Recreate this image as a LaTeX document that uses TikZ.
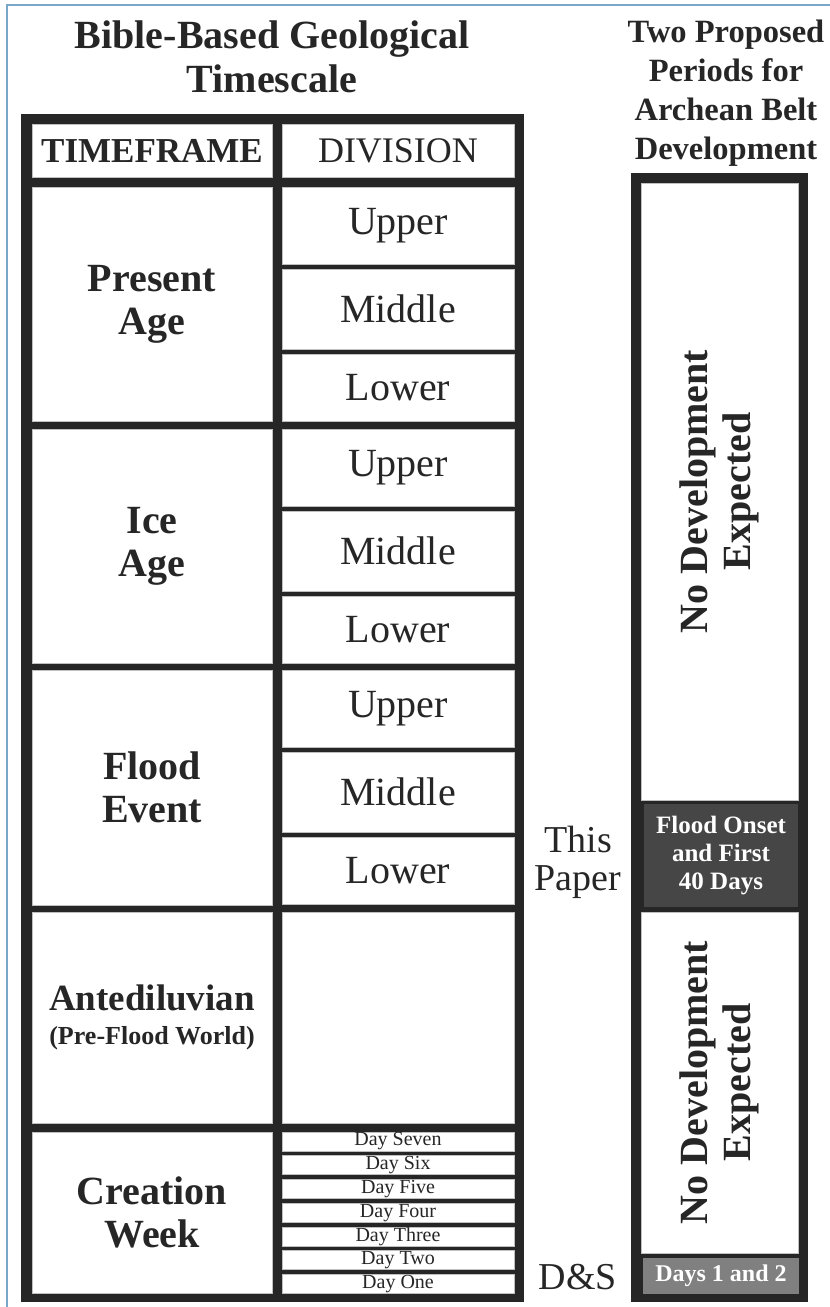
\documentclass[tikz,border=0pt]{standalone}
\usepackage{fontspec}
\setmainfont{Liberation Serif}
\definecolor{framegray}{HTML}{262626}
\definecolor{onsetgray}{HTML}{464646}
\definecolor{daysgray}{HTML}{808080}
\definecolor{edgeblue}{HTML}{7AA6C8}
\begin{document}
\begin{tikzpicture}[x=1pt, y=-1pt,
  cell/.style={rectangle, fill=white, draw=black!25, line width=0.6pt, inner sep=0pt, text=framegray, align=center},
  darkcell/.style={rectangle, fill=#1, inner sep=0pt, text=white, align=center, font=\fontsize{25}{28}\selectfont\bfseries},
  eratext/.style={font=\fontsize{40}{43}\selectfont\bfseries},
  divtext/.style={font=\fontsize{40}{45}\selectfont},
  daytext/.style={font=\fontsize{20}{20}\selectfont},
  heading/.style 2 args={align=center, text=framegray, font=\fontsize{#1}{#2}\selectfont\bfseries}]
\useasboundingbox (0,0) rectangle (830,1307);
\draw[edgeblue, line width=1.5pt] (7,1307) -- (7,5) -- (830,5);
\node[heading={40}{44}] (title) at (272,57) {Bible-Based Geological\\Timescale};
\node[heading={32.5}{39}] (title2) at (726,93) {Two Proposed\\Periods for\\Archean Belt\\Development};
\fill[framegray] (21,114) rectangle (524,1302);
\fill[framegray] (631,173) rectangle (808,1302);
\node[cell, minimum width=240, minimum height=53, font=\fontsize{35}{35}\selectfont\bfseries] (tf) at (152,150.5) {TIMEFRAME};
\node[cell, minimum width=232, minimum height=53, font=\fontsize{36}{36}\selectfont] (dv) at (398,150.5) {DIVISION};
\node[cell, eratext, minimum width=240, minimum height=234] (present) at (152,304) {Present\\Age};
\node[cell, eratext, minimum width=240, minimum height=234] (ice) at (152,546) {Ice\\Age};
\node[cell, eratext, minimum width=240, minimum height=235] (flood) at (152,787.5) {Flood\\Event};
\node[cell, minimum width=240, minimum height=211, font=\fontsize{37}{34}\selectfont\bfseries] (ante) at (152,1017.5) {Antediluvian\\{\fontsize{26}{30}\selectfont (Pre-Flood World)}};
\node[cell, eratext, minimum width=240, minimum height=161] (creation) at (152,1212.5) {Creation\\Week};
\foreach \era/\y in {present/187, ice/429, flood/670}{
  \node[cell, divtext, minimum width=232, minimum height=77] (\era up) at (398,\y+38.5) {Upper};
  \node[cell, divtext, minimum width=232, minimum height=80] (\era mid) at (398,\y+122) {Middle};
  \node[cell, divtext, minimum width=232, minimum height=67] (\era low) at (398,\y+200.5) {Lower};
}
\node[cell, minimum width=232, minimum height=211] (antediv) at (398,1017.5) {};
\foreach \d [count=\i from 0] in {Seven,Six,Five,Four,Three,Two,One}
  \node[cell, daytext, minimum width=232, minimum height=19] (day\i) at (398,1141.5+23.7*\i) {Day \d};
\node[cell, rotate=90, eratext, minimum width=617, minimum height=157] (nodev1) at (719.5,491.5) {No Development\\Expected};
\node[darkcell=onsetgray, minimum width=154, minimum height=103] (onset) at (721,855.5) {Flood Onset\\and First\\40 Days};
\node[cell, rotate=90, eratext, minimum width=341, minimum height=157] (nodev2) at (719.5,1082.5) {No Development\\Expected};
\node[darkcell=daysgray, minimum width=156, minimum height=36, font=\fontsize{24}{24}\selectfont\bfseries] (days12) at (721,1276) {Days 1 and 2};
\node[align=center, text=framegray, font=\fontsize{38}{38}\selectfont] (thispaper) at (578,862) {This\\Paper};
\node[text=framegray, font=\fontsize{38}{38}\selectfont] (ds) at (578,1277) {D\&S};
\end{tikzpicture}
\end{document}
